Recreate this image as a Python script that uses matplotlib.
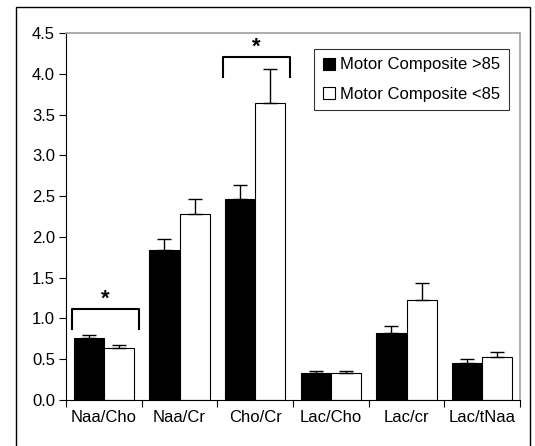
import numpy as np
import matplotlib
matplotlib.use("Agg")
import matplotlib.pyplot as plt
from matplotlib.patches import Rectangle

plt.rcParams['font.family'] = ['Liberation Sans', 'DejaVu Sans']

categories = ['Naa/Cho', 'Naa/Cr', 'Cho/Cr', 'Lac/Cho', 'Lac/cr', 'Lac/tNaa']
high_mean = [0.76, 1.84, 2.47, 0.33, 0.82, 0.46]
high_err = [0.04, 0.14, 0.17, 0.02, 0.09, 0.04]
low_mean = [0.64, 2.28, 3.64, 0.33, 1.23, 0.53]
low_err = [0.03, 0.19, 0.42, 0.02, 0.21, 0.055]
labels = ['Motor Composite >85', 'Motor Composite <85']

fig = plt.figure(figsize=(5.35, 4.46), dpi=100)
# outer frame
fig.patches.append(Rectangle((0.030, -0.05), 0.960, 1.034, transform=fig.transFigure,
                             fill=False, edgecolor='black', linewidth=1.0))
ax = fig.add_axes([0.1234, 0.1031, 0.8486, 0.8229])

x = np.arange(len(categories))
w = 0.40
ekw = dict(ecolor='black', elinewidth=1, capsize=5, capthick=1)
ax.bar(x - w / 2, high_mean, w, color='black', edgecolor='black', linewidth=0.8,
       yerr=[np.zeros(len(x)), high_err], error_kw=ekw, label=labels[0])
ax.bar(x + w / 2, low_mean, w, color='white', edgecolor='black', linewidth=0.8,
       yerr=[np.zeros(len(x)), low_err], error_kw=ekw, label=labels[1])

ax.set_xlim(-0.5, len(categories) - 0.5)
ax.set_ylim(0, 4.5)
ax.set_yticks(np.arange(0, 4.51, 0.5))
ax.set_yticklabels(['%.1f' % v for v in np.arange(0, 4.51, 0.5)], fontsize=12)
ax.set_xticks(np.arange(-0.5, len(categories), 1.0))
ax.set_xticklabels([])
ax.set_xticks(x, minor=True)
ax.set_xticklabels(categories, minor=True, fontsize=12)
ax.tick_params(axis='x', which='minor', length=0, pad=7)
ax.tick_params(axis='x', which='major', length=5, direction='out')
ax.tick_params(axis='y', length=5, direction='out', pad=3)
for s in ['top', 'right']:
    ax.spines[s].set_color('#a0a0a0')
    ax.spines[s].set_linewidth(1.2)

# significance brackets
def bracket(x0, x1, ytop, ybot, ystar):
    ax.plot([x0, x0, x1, x1], [ybot, ytop, ytop, ybot], color='black', linewidth=1.5, clip_on=False)
    ax.text((x0 + x1) / 2, ystar, '*', ha='center', va='center', fontsize=16, fontweight='bold')

bracket(-0.42, 0.46, 1.12, 0.87, 1.24)
bracket(1.57, 2.46, 4.20, 3.96, 4.33)

leg = ax.legend(loc='upper right', bbox_to_anchor=(0.975, 0.956), fontsize=12, frameon=True,
                fancybox=False, edgecolor='black', handlelength=0.75, handleheight=0.75,
                handletextpad=0.3, borderpad=0.5, labelspacing=0.85, borderaxespad=0)
leg.get_frame().set_linewidth(0.8)

fig.savefig('out.png', dpi=100)
